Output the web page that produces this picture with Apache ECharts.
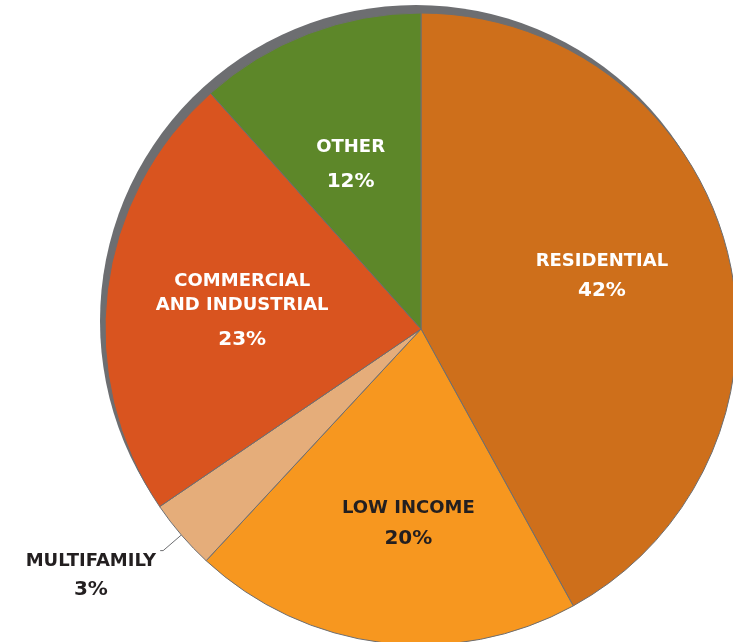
<!DOCTYPE html>
<html>
<head>
<meta charset="utf-8">
<script src="https://cdn.jsdelivr.net/npm/echarts@6/dist/echarts.min.js"></script>
<style>
html,body{margin:0;padding:0;background:#fff;}
#chart{width:733px;height:642px;}
</style>
</head>
<body>
<div id="chart"></div>
<script>
// Data
var categories = ['RESIDENTIAL', 'LOW INCOME', 'MULTIFAMILY', 'COMMERCIAL\nAND INDUSTRIAL', 'OTHER'];
var sliceValues = [42.0, 19.9, 3.6, 22.9, 11.6];   // slice sizes as drawn
var shareLabels = ['42%', '20%', '3%', '23%', '12%']; // printed percentages
var sliceColors = ['#CE6F1B', '#F7971F', '#E5AD7A', '#D9541F', '#5D8729'];
var labelColors = ['#ffffff', '#231f20', '#231f20', '#ffffff', '#ffffff'];

var FONT = '"DejaVu Sans", sans-serif';
var nameLH = [29, 31, 28, 24, 34];
var pctLH = [29, 31, 28, 44, 34];
var offsets = [[25, -13], [7, 35], [0, 0], [-19, 6], [-13, -14]];

var data = categories.map(function (c, i) {
  var lines = c.split('\n');
  var fmt = lines.map(function (l) { return '{n' + i + '|' + l + '}'; }).join('\n') + '\n{p' + i + '|' + shareLabels[i] + '}';
  var rich = {};
  rich['n' + i] = { fontFamily: FONT, fontWeight: 700, fontSize: 18, color: labelColors[i], lineHeight: nameLH[i], align: 'center' };
  rich['p' + i] = { fontFamily: FONT, fontWeight: 700, fontSize: 20, color: labelColors[i], lineHeight: pctLH[i], align: 'center' };
  var item = {
    name: c,
    value: sliceValues[i],
    itemStyle: { color: sliceColors[i] },
    label: { formatter: fmt, rich: rich, position: 'inside', align: 'center' }
  };
  if (i === 2) {
    rich.s = { fontSize: 1, lineHeight: 50 };
    item.label.formatter = '{s| }\n' + fmt;
    item.label.position = 'outside';
    item.label.distanceToLabelLine = 4;
    item.labelLine = { show: true, length: 24, length2: 3, lineStyle: { color: '#6d6e71', width: 1 } };
  }
  return item;
});

var chart = echarts.init(document.getElementById('chart'), null, { renderer: 'canvas' });
chart.setOption({
  animation: false,
  series: [
    {
      type: 'pie',
      silent: true,
      z: 1,
      center: [416, 321],
      radius: 316,
      label: { show: false },
      labelLine: { show: false },
      itemStyle: { color: '#6d6e71', borderWidth: 0 },
      data: [{ value: 1, name: 'shadow' }]
    },
    {
      type: 'pie',
      z: 2,
      center: [421, 329],
      radius: 316,
      startAngle: 90,
      clockwise: true,
      avoidLabelOverlap: false,
      itemStyle: { borderColor: '#6d6e71', borderWidth: 1 },
      emphasis: { disabled: true },
      label: { show: true },
      labelLayout: function (p) {
        if (p.dataIndex === 2) { return {}; }
        return { dx: offsets[p.dataIndex][0], dy: offsets[p.dataIndex][1] };
      },
      data: data
    }
  ]
});
</script>
</body>
</html>
